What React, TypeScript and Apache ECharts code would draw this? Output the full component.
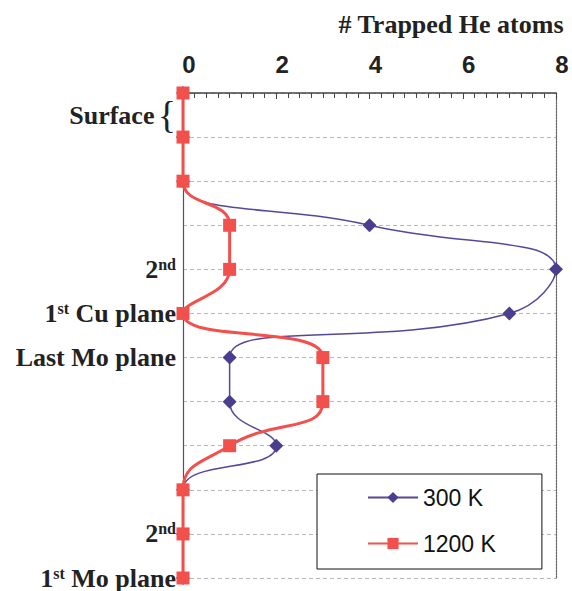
import React, { useEffect, useRef } from "react";
import * as echarts from "echarts";

// Atomic planes from the free surface (0) down into the Mo substrate (11)
const planeIndex = [0, 1, 2, 3, 4, 5, 6, 7, 8, 9, 10, 11];
// Number of trapped He atoms per plane at each temperature
const he300K = [0, 0, 0, 4, 8, 7, 1, 1, 2, 0, 0, 0];
const he1200K = [0, 0, 0, 1, 1, 0, 3, 3, 1, 0, 0, 0];
// Plane labels (rich-text markup for superscripts)
const planeLabels = [
  "",
  "",
  "",
  "",
  "{txt|2}{sup|nd}",
  "{txt|1}{sup|st}{txt| Cu plane}",
  "{txt|Last Mo plane}",
  "",
  "",
  "",
  "{txt|2}{sup|nd}",
  "{txt|1}{sup|st}{txt| Mo plane}",
];
const surfaceLabel = "{txt|Surface} {brace|{}";
const surfacePos = 0.5;
const xTicks = { min: 0, max: 8, step: 2 };
const seriesNames = ["300 K", "1200 K"];

const SERIF = "'Liberation Serif', 'Times New Roman', serif";
const SANS = "'Liberation Sans', Arial, sans-serif";

export default function App() {
  const ref = useRef<HTMLDivElement>(null);

  useEffect(() => {
    document.body.style.margin = "0";
    if (!ref.current) return;
    const chart = echarts.init(ref.current, undefined, { renderer: "svg" });

    const purple = "#55489a";
    const red = "#f2504d";

    chart.setOption({
      animation: false,
      backgroundColor: "#ffffff",
      title: {
        text: "# Trapped He atoms",
        right: 3,
        top: 6,
        textStyle: {
          fontFamily: SERIF,
          fontWeight: "bold",
          fontSize: 26,
          color: "#222",
        },
      },
      legend: {
        orient: "vertical",
        left: 317,
        top: 474,
        width: 224,
        padding: [12, 46, 14, 50],
        itemGap: 23,
        itemWidth: 50,
        itemHeight: 14,
        backgroundColor: "#fff",
        borderColor: "#111",
        borderWidth: 1,
        textStyle: { fontFamily: SANS, fontSize: 23, color: "#111" },
        data: seriesNames,
      },
      grid: {
        left: 183,
        right: 16,
        top: 93,
        bottom: 13,
        outerBoundsMode: "none",
      },
      xAxis: {
        type: "value",
        position: "top",
        min: xTicks.min,
        max: xTicks.max,
        interval: xTicks.step,
        axisLine: { show: true, lineStyle: { color: "#444", width: 1.5 } },
        axisTick: { show: true, inside: true, length: 6, lineStyle: { color: "#444" } },
        minorTick: { show: true, splitNumber: 8, length: 5, lineStyle: { color: "#444" } },
        splitLine: { show: false },
        axisLabel: {
          margin: 17,
          padding: [0, 0, 0, 12],
          fontFamily: SANS,
          fontWeight: "bold",
          fontSize: 24,
          color: "#222",
        },
      },
      yAxis: [
        {
          type: "value",
          inverse: true,
          min: 0,
          max: planeIndex.length - 1,
          interval: 0.5,
          position: "left",
          axisLine: { show: true, lineStyle: { color: "#555", width: 1.2 } },
          axisTick: { show: false },
          splitLine: { show: false },
          axisLabel: {
            margin: 7,
            showMinLabel: true,
            showMaxLabel: true,
            formatter: (v: number) => {
              if (Math.abs(v - surfacePos) < 1e-6) return surfaceLabel;
              if (Number.isInteger(v)) return planeLabels[v] || "";
              return "";
            },
            rich: {
              txt: {
                fontFamily: SERIF,
                fontWeight: "bold",
                fontSize: 26,
                color: "#222",
              },
              sup: {
                fontFamily: SERIF,
                fontWeight: "bold",
                fontSize: 16,
                color: "#222",
                verticalAlign: "top",
              },
              brace: {
                fontFamily: SERIF,
                fontWeight: "normal",
                fontSize: 38,
                color: "#222",
              },
            },
          },
        },
        {
          type: "value",
          inverse: true,
          min: 0,
          max: planeIndex.length - 1,
          interval: 1,
          position: "right",
          axisLine: {
            show: true,
            lineStyle: { color: "#666", width: 1.2, type: [2, 1] },
          },
          axisTick: { show: false },
          axisLabel: { show: false },
          splitLine: {
            show: true,
            lineStyle: { color: "#b8b8b8", width: 1, type: [4, 3] },
          },
        },
      ],
      series: [
        {
          name: seriesNames[0],
          type: "line",
          yAxisIndex: 0,
          smooth: 0.5,
          clip: false,
          symbol: "diamond",
          symbolSize: 14,
          itemStyle: { color: "#4a3f8e" },
          lineStyle: { color: purple, width: 1.5 },
          data: planeIndex.map((p, i) => [he300K[i], p]),
          z: 2,
        },
        {
          name: seriesNames[1],
          type: "line",
          yAxisIndex: 0,
          smooth: 0.5,
          clip: false,
          symbol: "rect",
          symbolSize: 13,
          itemStyle: { color: red },
          lineStyle: { color: red, width: 3 },
          data: planeIndex.map((p, i) => [he1200K[i], p]),
          z: 3,
        },
      ],
    });

    return () => chart.dispose();
  }, []);

  return <div ref={ref} style={{ width: 572, height: 591 }} />;
}
